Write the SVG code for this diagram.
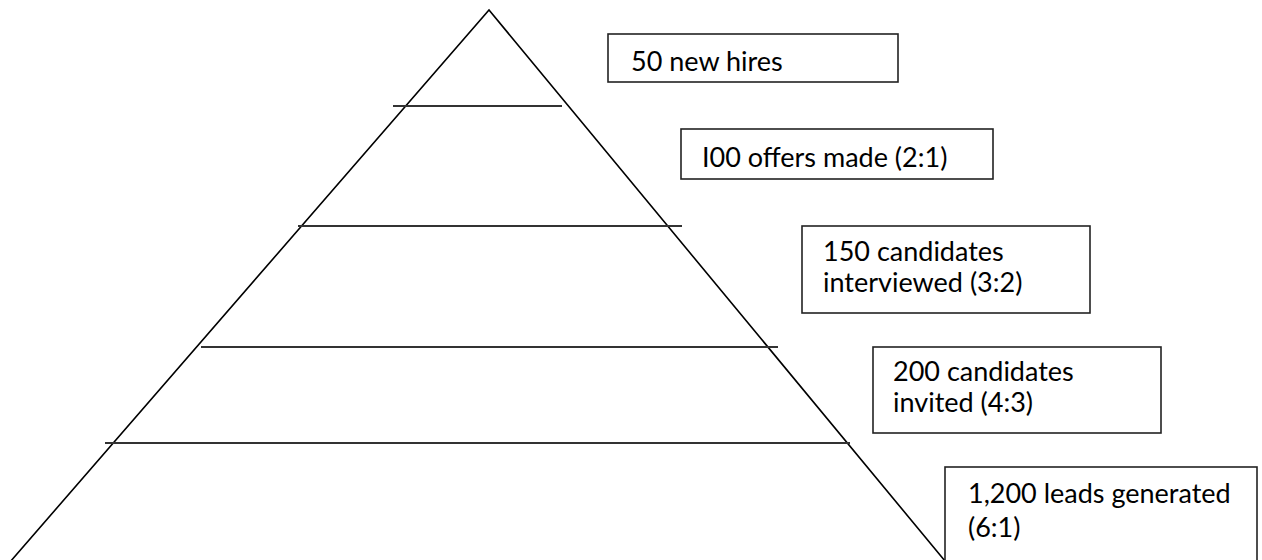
<svg xmlns="http://www.w3.org/2000/svg" width="1262" height="560" viewBox="0 0 1262 560">
<style>
.tri{fill:none;stroke:#000;stroke-width:1.6}
.lvl{stroke:#333;stroke-width:2}
.box{fill:#fff;stroke:#222;stroke-width:1.6;stroke-linecap:square}
.t{font-family:Lato,"Open Sans",sans-serif;font-size:27px;fill:#000}
</style>
<rect width="1262" height="560" fill="#fff"/>
<g id="pyramid">
<polyline class="tri" points="10,562 489,10 945,561"/>
</g>
<g id="levels">
<line class="lvl" x1="393" y1="106" x2="562" y2="106"/>
<line class="lvl" x1="298" y1="226" x2="682" y2="226"/>
<line class="lvl" x1="201" y1="347" x2="778" y2="347"/>
<line class="lvl" x1="105" y1="443" x2="850" y2="443"/>
</g>
<g id="box-hires">
<rect class="box" x="608" y="34" width="290" height="48"/>
<text class="t" x="631" y="71">50 new hires</text>
</g>
<g id="box-offers">
<rect class="box" x="681" y="129" width="312" height="50"/>
<text class="t" x="702" y="167">I00 offers made (2:1)</text>
</g>
<g id="box-interviewed">
<rect class="box" x="802" y="226" width="288" height="87"/>
<text class="t" x="823" y="261">150 candidates</text>
<text class="t" x="823" y="292">interviewed (3:2)</text>
</g>
<g id="box-invited">
<rect class="box" x="873" y="347" width="288" height="86"/>
<text class="t" x="893" y="381">200 candidates</text>
<text class="t" x="893" y="412">invited (4:3)</text>
</g>
<g id="box-leads">
<rect class="box" x="945" y="467" width="312" height="110"/>
<text class="t" x="968" y="503">1,200 leads generated</text>
<text class="t" x="968" y="537">(6:1)</text>
</g>
</svg>
